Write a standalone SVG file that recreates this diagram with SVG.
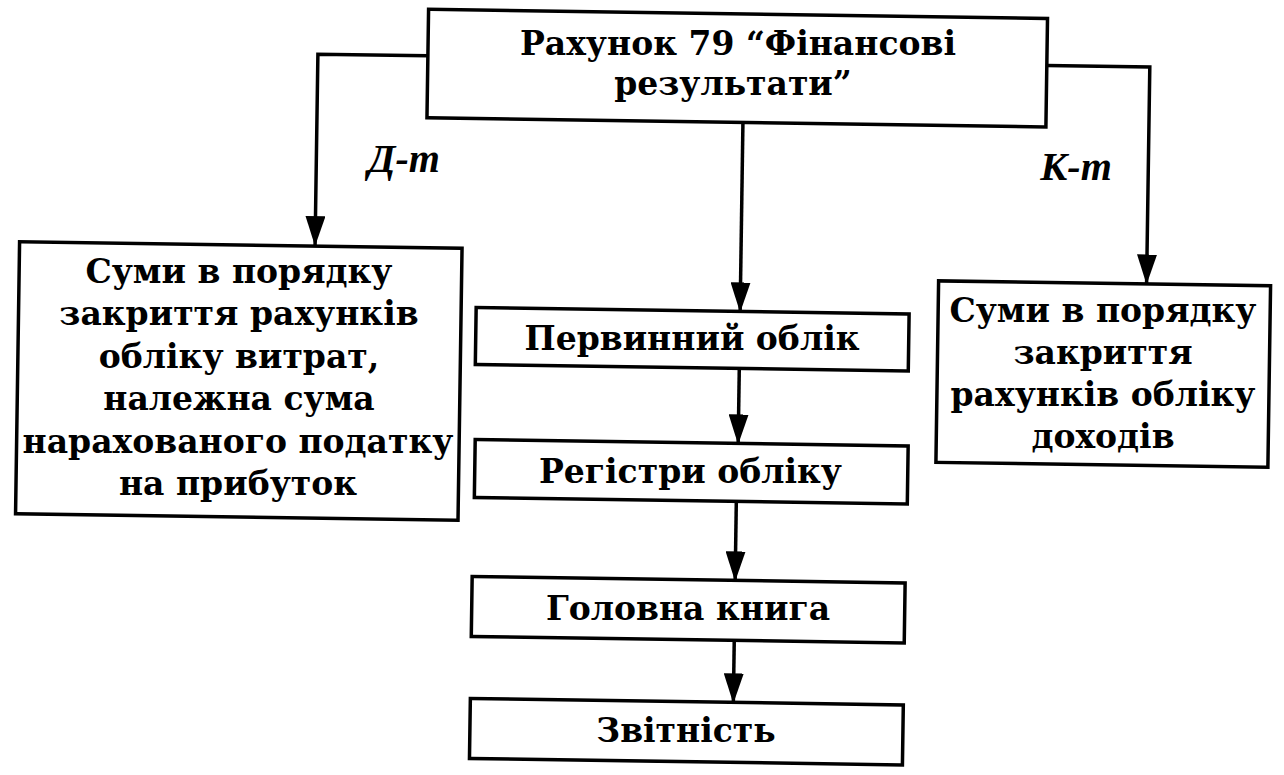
<svg xmlns="http://www.w3.org/2000/svg" width="1284" height="775" viewBox="0 0 1284 775">
<style>
.box{fill:#fff;stroke:#000;stroke-width:3.5}
.t{font-family:"DejaVu Serif","Liberation Serif",serif;font-weight:bold;font-size:33px;text-anchor:middle;fill:#000}
.lbl{font-family:"Liberation Serif","DejaVu Serif",serif;font-style:italic;font-weight:bold;font-size:40px;text-anchor:middle;fill:#000}
.c{fill:none;stroke:#000;stroke-width:3.5}
</style>
<defs>
<marker id="arr" viewBox="0 0 30 20" markerWidth="30" markerHeight="20" refX="29" refY="10" orient="auto" markerUnits="userSpaceOnUse">
<path d="M0,0 L30,10 L0,20 Z" fill="#000"/>
</marker>
</defs>
<rect width="1284" height="775" fill="#fff"/>
<g id="connectors">
<g transform="rotate(0.85 642 387)">
<path class="c" d="M423,59 H313 V250" marker-end="url(#arr)"/>
<path class="c" d="M1042,59.5 H1145 V276" marker-end="url(#arr)"/>
<path class="c" d="M739,121 V310" marker-end="url(#arr)"/>
<path class="c" d="M739,367 V442" marker-end="url(#arr)"/>
<path class="c" d="M738,500 V579" marker-end="url(#arr)"/>
<path class="c" d="M738,639 V701" marker-end="url(#arr)"/>
</g>
<text class="lbl" x="404" y="172">Д-т</text>
<text class="lbl" x="1076" y="180">К-т</text>
</g>
<g id="node-account">
<rect class="box" x="423" y="12.5" width="619" height="108.5" transform="rotate(0.85 642 387)"/>
<text class="t" x="738" y="55">Рахунок 79 “Фінансові</text>
<text class="t" x="733" y="95">результати”</text>
</g>
<g id="node-debit">
<rect class="box" x="17.5" y="251" width="442.5" height="272" transform="rotate(0.85 642 387)"/>
<text class="t" x="239" y="283">Суми в порядку</text>
<text class="t" x="239" y="325.4">закриття рахунків</text>
<text class="t" x="239" y="367.8">обліку витрат,</text>
<text class="t" x="239" y="410.2">належна сума</text>
<text class="t" x="238" y="452.6">нарахованого податку</text>
<text class="t" x="238" y="495">на прибуток</text>
</g>
<g id="node-credit">
<rect class="box" x="937" y="276.5" width="332" height="181.5" transform="rotate(0.85 642 387)"/>
<text class="t" x="1103" y="322">Суми в порядку</text>
<text class="t" x="1103" y="364">закриття</text>
<text class="t" x="1103" y="406">рахунків обліку</text>
<text class="t" x="1103" y="448">доходів</text>
</g>
<g id="node-primary">
<rect class="box" x="475" y="310" width="433" height="57" transform="rotate(0.85 642 387)"/>
<text class="t" x="692" y="350">Первинний облік</text>
</g>
<g id="node-registers">
<rect class="box" x="476" y="442" width="433" height="58" transform="rotate(0.85 642 387)"/>
<text class="t" x="690.5" y="483">Регістри обліку</text>
</g>
<g id="node-ledger">
<rect class="box" x="475" y="579" width="433" height="60" transform="rotate(0.85 642 387)"/>
<text class="t" x="688" y="620">Головна книга</text>
</g>
<g id="node-reporting">
<rect class="box" x="475" y="701" width="433" height="60" transform="rotate(0.85 642 387)"/>
<text class="t" x="686" y="742">Звітність</text>
</g>
</svg>
